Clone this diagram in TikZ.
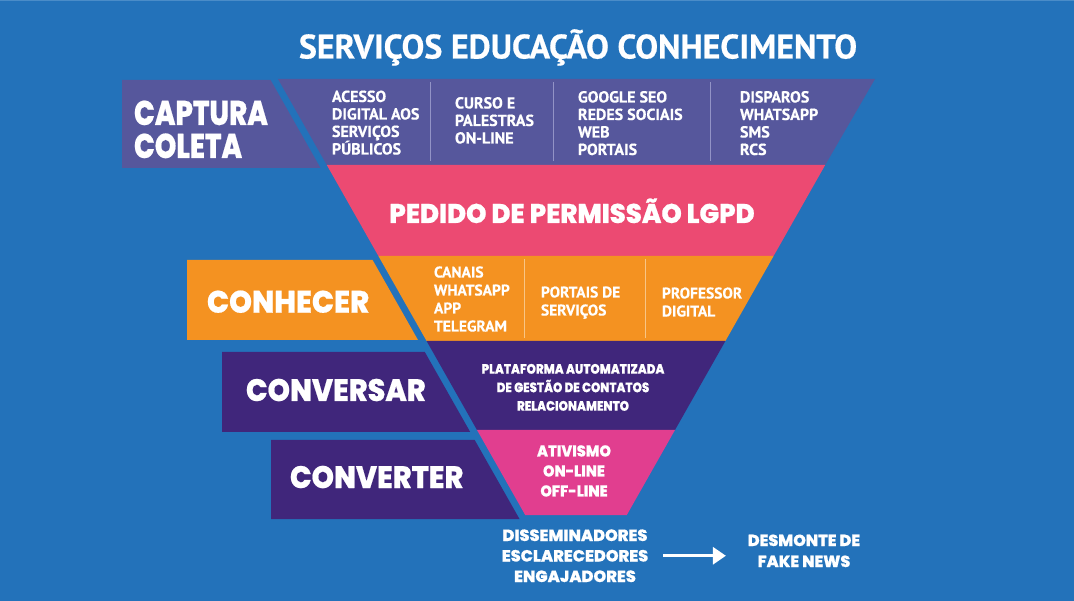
\documentclass[tikz,border=0pt]{standalone}
\usepackage{fontspec}
\usepackage{graphicx}
\usetikzlibrary{arrows.meta}
\newfontfamily\popf{Poppins ExtraBold}[FakeBold=0.6]
\newfontfamily\ptf{PT Sans}[FakeBold=0.5]
\definecolor{bgblue}{HTML}{2372BA}
\definecolor{topline}{HTML}{4A8CC8}
\definecolor{slate}{HTML}{56579C}
\definecolor{pinkb}{HTML}{EC4A72}
\definecolor{orangeb}{HTML}{F49221}
\definecolor{dpurple}{HTML}{40267B}
\definecolor{magentab}{HTML}{E13E8F}
\definecolor{divslate}{HTML}{9293C6}
\definecolor{divorange}{HTML}{F8C585}
\newcommand\linesL[1]{\vtop{\halign{##\hfil\cr#1\crcr}}}
\newcommand\linesC[1]{\vtop{\halign{\hfil##\hfil\cr#1\crcr}}}
\newcommand\hsc[2]{\scalebox{#1}[1]{#2}}
\tikzset{
  txt/.style={text=white, inner sep=0pt, outer sep=0pt},
  cond/.style={txt, font=\ptf\bfseries\fontsize{16}{17.5}\selectfont, anchor=base west},
  cond2/.style={txt, font=\ptf\bfseries\fontsize{15.5}{18}\selectfont, anchor=base west},
  biglab/.style={txt, font=\popf\fontsize{31}{33}\selectfont, anchor=base west},
  geo/.style={txt, anchor=base},
  divider/.style={line width=1pt},
  arrw/.style={white, line width=3pt, -{Triangle[length=13pt,width=17pt]}},
}
\begin{document}
\begin{tikzpicture}[x=1pt,y=-1pt]
\useasboundingbox (0,0) rectangle (1074,601);
\fill[bgblue] (0,0) rectangle (1074,601);
\fill[topline] (0,0) rectangle (1074,1.5);
% funnel bands
\fill[slate]    (278,79) -- (875,79) -- (825.2,165) -- (326.8,165) -- cycle;
\fill[pinkb]    (326.8,165) -- (825.2,165) -- (773.6,256) -- (378.4,256) -- cycle;
\fill[orangeb]  (378.4,256) -- (773.6,256) -- (725.4,341) -- (426.6,341) -- cycle;
\fill[dpurple]  (426.6,341) -- (725.4,341) -- (675,430) -- (477,430) -- cycle;
\fill[magentab] (477,430) -- (675,430) -- (626.8,515) -- (525.2,515) -- cycle;
% dividers
\draw[divider, divslate] (430,82) -- (430,161);
\draw[divider, divslate] (553,82) -- (553,161);
\draw[divider, divslate] (710,82) -- (710,161);
\draw[divider, divorange] (524,259) -- (524,338);
\draw[divider, divorange] (645,259) -- (645,338);
% side label boxes
\fill[slate]   (122,80) -- (270.6,80) -- (320.5,168) -- (122,168) -- cycle;
\fill[orangeb] (187,260) -- (372.6,260) -- (418,340) -- (187,340) -- cycle;
\fill[dpurple] (222,352) -- (424.8,352) -- (470.2,432) -- (222,432) -- cycle;
\fill[dpurple] (271,440) -- (474.7,440) -- (519.5,519) -- (271,519) -- cycle;
% title
\node[txt, anchor=base, font=\ptf\bfseries\fontsize{34}{40}\selectfont] (title) at (578,58.5)
  {SERVIÇOS EDUCAÇÃO CONHECIMENTO};
% band 1 texts
\node[cond] (acesso) at (332,102) {\linesL{ACESSO\cr DIGITAL AOS\cr SERVIÇOS\cr PÚBLICOS}};
\node[cond] (curso) at (455,108.5) {\linesL{CURSO E\cr PALESTRAS\cr ON-LINE}};
\node[cond] (google) at (578,102.5) {\linesL{GOOGLE SEO\cr REDES SOCIAIS\cr WEB\cr PORTAIS}};
\node[cond] (disparos) at (740,102.5) {\linesL{DISPAROS\cr WHATSAPP\cr SMS\cr RCS}};
% band 2
\node[geo, font=\popf\fontsize{27}{30}\selectfont] (lgpd) at (572,223)
  {\hsc{0.96}{PEDIDO DE PERMISSÃO LGPD}};
% band 3 texts
\node[cond2] (canais) at (434,277.5) {\linesL{CANAIS\cr WHATSAPP\cr APP\cr TELEGRAM}};
\node[cond2] (portais) at (541,297.5) {\linesL{PORTAIS DE\cr SERVIÇOS}};
\node[cond2] (prof) at (662,298.5) {\linesL{PROFESSOR\cr DIGITAL}};
% band 4
\node[geo, font=\popf\fontsize{13.6}{18.5}\selectfont] (plat) at (573,373.7)
  {\hsc{0.87}{\linesC{PLATAFORMA AUTOMATIZADA\cr DE GESTÃO DE CONTATOS\cr RELACIONAMENTO}}};
% band 5
\node[geo, font=\popf\fontsize{15.7}{20}\selectfont] (ativ) at (574,456.5)
  {\hsc{0.93}{\linesC{ATIVISMO\cr ON-LINE\cr OFF-LINE}}};
% side labels
\node[biglab, font=\popf\fontsize{34.3}{33}\selectfont] (captura) at (134,125)
  {\hsc{0.8}{\linesL{CAPTURA\cr COLETA}}};
\node[biglab] (conhecer) at (207,312.7) {\hsc{0.94}{CONHECER}};
\node[biglab] (conversar) at (246,401) {\hsc{0.92}{CONVERSAR}};
\node[biglab] (converter) at (290,488) {\hsc{0.92}{CONVERTER}};
% bottom
\node[geo, font=\popf\fontsize{16.2}{20.5}\selectfont] (dis) at (575,541)
  {\linesC{DISSEMINADORES\cr ESCLARECEDORES\cr ENGAJADORES}};
\node[geo, font=\popf\fontsize{16}{21}\selectfont] (fake) at (804,546)
  {\linesC{DESMONTE DE\cr FAKE NEWS}};
\draw[arrw, shorten <=15pt, shorten >=22pt] (dis.east) -- (dis.east -| fake.west);
\end{tikzpicture}
\end{document}
